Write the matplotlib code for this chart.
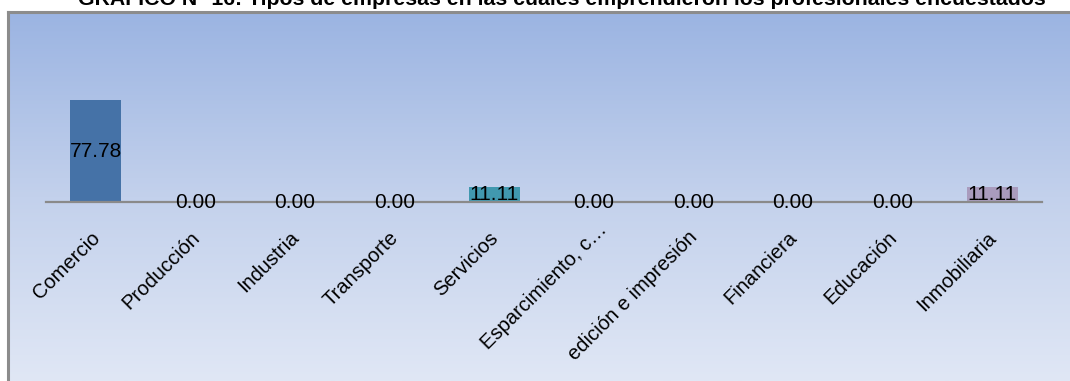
import numpy as np
import matplotlib
matplotlib.use('Agg')
import matplotlib.pyplot as plt
from matplotlib.colors import LinearSegmentedColormap
from matplotlib.transforms import ScaledTranslation

plt.rcParams['font.family'] = ['Liberation Sans', 'DejaVu Sans']

titulo = 'GRAFICO N° 16: Tipos de empresas en las cuales emprendieron los profesionales encuestados'
categorias = ['Comercio', 'Producción', 'Industria', 'Transporte', 'Servicios',
              'Esparcimiento, c…', 'edición e impresión', 'Financiera', 'Educación', 'Inmobiliaria']
porcentajes = [77.78, 0.00, 0.00, 0.00, 11.11, 0.00, 0.00, 0.00, 0.00, 11.11]
colores = ['#4572A7', '#AA4643', '#89A54E', '#71588F', '#4198AF',
           '#DB843D', '#93A9CF', '#D19392', '#B9CD96', '#A99BBD']

W, H, dpi = 1070, 381, 100
fig = plt.figure(figsize=(W / dpi, H / dpi), dpi=dpi)


def px_rect(x0, y0, x1, y1):
    # pixel box (top-left origin) -> figure fraction
    return [x0 / W, 1 - y1 / H, (x1 - x0) / W, (y1 - y0) / H]


# fondo con degradado
bg = fig.add_axes(px_rect(8, 12, W, H))
grad = LinearSegmentedColormap.from_list('fondo', ['#9bb4e2', '#c3d1ec', '#e0e7f5'])
bg.imshow(np.linspace(0, 1, 256).reshape(-1, 1), aspect='auto', cmap=grad,
          extent=[0, 1, 0, 1], origin='upper')
bg.set_xlim(0, 1)
bg.set_ylim(0, 1)
bg.set_xticks([])
bg.set_yticks([])
for s in ['right', 'bottom']:
    bg.spines[s].set_visible(False)
for s in ['left', 'top']:
    bg.spines[s].set_color('#8c8c8c')
    bg.spines[s].set_linewidth(2.2)

# el título queda recortado por el borde superior
fig.text(562 / W, 1 - 5 / H, titulo, ha='center', va='baseline',
         fontsize=15.3, fontweight='bold')

# barras
ax = fig.add_axes(px_rect(46, 202 - 80 * 1.311, 1042, 202))
ax.patch.set_alpha(0)
x = np.arange(len(categorias))
barras = ax.bar(x, porcentajes, width=0.51, color=colores)
ax.bar_label(barras, labels=[f'{v:.2f}' for v in porcentajes], label_type='center',
             fontsize=15, color='black')

ax.set_xlim(-0.5, 9.5)
ax.set_ylim(0, 80)
ax.set_yticks([])
for s in ['left', 'right', 'top']:
    ax.spines[s].set_visible(False)
ax.spines['bottom'].set_color('#8a8a8a')
ax.spines['bottom'].set_linewidth(1.6)

ax.set_xticks(x)
ax.set_xticklabels(categorias, rotation=45, ha='right', va='center',
                   rotation_mode='anchor', fontsize=14.5)
ax.tick_params(axis='x', length=0, pad=25)
for i, lab in enumerate(ax.get_xticklabels()):
    dx, dy = 1, 2
    if i == 5:
        dx, dy = 10, 10
    lab.set_transform(lab.get_transform() + ScaledTranslation(dx / dpi, dy / dpi, fig.dpi_scale_trans))

fig.savefig('out.png', dpi=dpi)
